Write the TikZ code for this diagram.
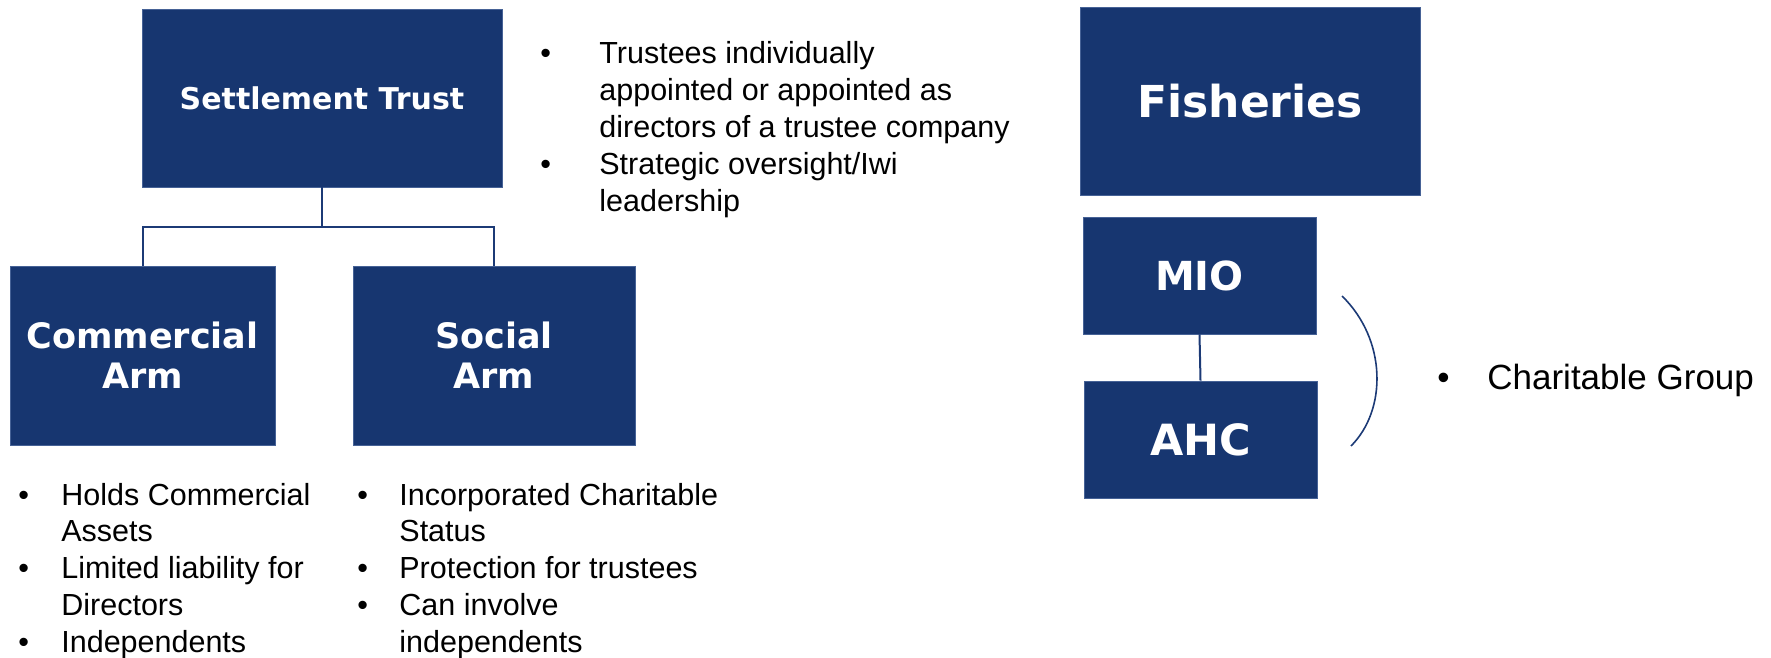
\documentclass[tikz,border=0pt]{standalone}
\usepackage{fontspec}
\setmainfont{Liberation Sans}
\newfontfamily\boxfont{DejaVu Sans}[BoldFont={DejaVu Sans Bold}]
\definecolor{navy}{RGB}{23,54,112}
\definecolor{navyedge}{RGB}{70,98,150}
\definecolor{linecol}{RGB}{28,58,118}
\tikzset{
  orgbox/.style={rectangle, fill=navy, draw=navyedge, line width=0.4pt, text=white, align=center, inner sep=0pt},
  conn/.style={draw=linecol, line width=1pt},
  bullist/.style={anchor=base west, inner sep=0pt, align=left}
}
\begin{document}
\begin{tikzpicture}[x=0.5pt,y=-0.5pt]
\useasboundingbox (0,0) rectangle (1771,658);
% boxes
\node[orgbox, minimum width=180pt, minimum height=89pt, font=\boxfont\bfseries\fontsize{15}{18}\selectfont] (st) at (322,98)
  {Settlement Trust};
\node[orgbox, minimum width=132.5pt, minimum height=89.5pt, font=\boxfont\bfseries\fontsize{17.5}{20}\selectfont] (ca) at (142.5,355.5)
  {Commercial\\Arm};
\node[orgbox, minimum width=141pt, minimum height=89.5pt, font=\boxfont\bfseries\fontsize{17.5}{20}\selectfont] (sa) at (494,355.5)
  {Social\\Arm};
\node[orgbox, minimum width=170pt, minimum height=94pt, font=\boxfont\bfseries\fontsize{22}{26}\selectfont] (fi) at (1250,101)
  {Fisheries};
\node[orgbox, minimum width=116.5pt, minimum height=58.5pt, font=\boxfont\bfseries\fontsize{20}{24}\selectfont] (mio) at (1199.5,275.5)
  {MIO};
\node[orgbox, minimum width=116.5pt, minimum height=58.5pt, font=\boxfont\bfseries\fontsize{21.5}{26}\selectfont] (ahc) at (1200.5,439.5)
  {AHC};
% connectors
\coordinate (mid) at (322,227);
\draw[conn] (st.south) -- (mid);
\draw[conn] (mid) -| (ca.north);
\draw[conn] (mid) -| (sa.north);
\draw[conn] (mio.south) -- (ahc.north);
% bracket
\coordinate (brA) at (1342,296);
\coordinate (brB) at (1351,446);
\draw[conn, line width=0.8pt] (brA) .. controls (1387,340) and (1387,410) .. (brB);
% bullet lists
\node[bullist] (tl) at (540,64) {\fontsize{15.25}{18.4}\selectfont
  \begin{tabular}[t]{@{}p{29.5pt}@{}l@{}}
  \textbullet & Trustees individually\\
   & appointed or appointed as\\
   & directors of a trustee company\\
  \textbullet & Strategic oversight/Iwi\\
   & leadership
  \end{tabular}};
\node[bullist] (cl) at (18,505) {\fontsize{15.25}{18.4}\selectfont
  \begin{tabular}[t]{@{}p{21.5pt}@{}l@{}}
  \textbullet & Holds Commercial\\
   & Assets\\
  \textbullet & Limited liability for\\
   & Directors\\
  \textbullet & Independents
  \end{tabular}};
\node[bullist] (sl) at (357,505) {\fontsize{15.25}{18.4}\selectfont
  \begin{tabular}[t]{@{}p{21pt}@{}l@{}}
  \textbullet & Incorporated Charitable\\
   & Status\\
  \textbullet & Protection for trustees\\
  \textbullet & Can involve\\
   & independents
  \end{tabular}};
\node[bullist] (cg) at (1437,389) {\fontsize{17.5}{21}\selectfont
  \begin{tabular}[t]{@{}p{25pt}@{}l@{}}
  \textbullet & Charitable Group
  \end{tabular}};
\end{tikzpicture}
\end{document}
